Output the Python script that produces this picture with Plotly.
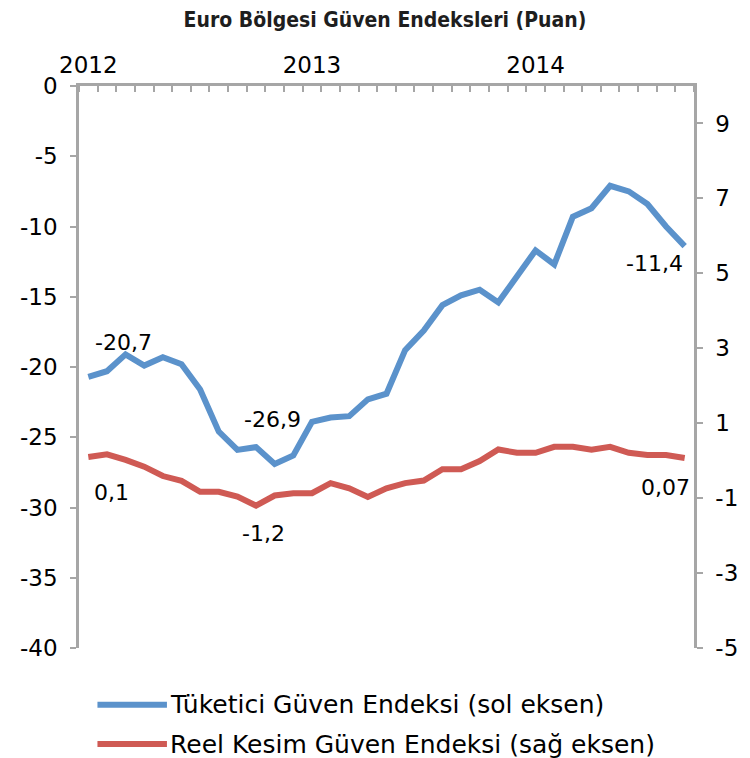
import plotly.graph_objects as go

# ---- data -------------------------------------------------------------
years = ["2012", "2013", "2014"]
months = [f"{y}-{m:02d}" for y in (2012, 2013, 2014) for m in range(1, 13)][:33]

consumer = [-20.7, -20.3, -19.1, -19.9, -19.3, -19.8, -21.6, -24.6, -25.9, -25.7, -26.9, -26.3,
            -23.9, -23.6, -23.5, -22.3, -21.9, -18.8, -17.4, -15.6, -14.9, -14.5, -15.4, -13.6,
            -11.7, -12.7, -9.3, -8.7, -7.1, -7.5, -8.4, -10.0, -11.4]
industry = [0.10, 0.17, 0.02, -0.16, -0.41, -0.54, -0.83, -0.83, -0.96, -1.20, -0.93, -0.87,
            -0.87, -0.60, -0.74, -0.97, -0.74, -0.60, -0.53, -0.23, -0.23, -0.01, 0.30, 0.21,
            0.21, 0.37, 0.37, 0.29, 0.37, 0.21, 0.15, 0.15, 0.07]

series_names = ["Tüketici Güven Endeksi (sol eksen)",
                "Reel Kesim Güven Endeksi (sağ eksen)"]
title_text = "Euro Bölgesi Güven Endeksleri (Puan)"

left_ticks = [0, -5, -10, -15, -20, -25, -30, -35, -40]
right_ticks = [9, 7, 5, 3, 1, -1, -3, -5]

# labelled points: (series, month, text, xshift, yshift)
point_labels = [
    ("consumer", "2012-01", "-20,7", 35, 34),
    ("consumer", "2012-11", "-26,9", -2, 44),
    ("consumer", "2014-09", "-11,4", -30, -17),
    ("industry", "2012-01", "0,1", 23, -36),
    ("industry", "2012-10", "-1,2", 7, -28),
    ("industry", "2014-09", "0,07", -19, -29),
]

# ---- style ------------------------------------------------------------
BLUE = "#5B92CB"
RED = "#CF5A54"
AXIS = "#A6A6A6"
FONT = "DejaVu Sans"
TICK = 23

x = list(range(len(months)))
year_pos = [months.index(f"{y}-01") for y in years]

fig = go.Figure()
fig.add_trace(go.Scatter(x=x, y=consumer, mode="lines", name=series_names[0],
                         line=dict(color=BLUE, width=6), yaxis="y"))
fig.add_trace(go.Scatter(x=x, y=industry, mode="lines", name=series_names[1],
                         line=dict(color=RED, width=6), yaxis="y2"))

data_map = {"consumer": (consumer, "y"), "industry": (industry, "y2")}
annotations = []
for s, m, txt, xs, ys in point_labels:
    vals, yr = data_map[s]
    i = months.index(m)
    annotations.append(dict(x=i, y=vals[i], xref="x", yref=yr, text=txt, showarrow=False,
                            xshift=xs, yshift=ys,
                            font=dict(family=FONT, size=22, color="black")))

# custom legend (long line samples as in the original)
shapes = []
leg_y = [-0.101, -0.171]
for name, col, ly in zip(series_names, [BLUE, RED], leg_y):
    shapes.append(dict(type="line", xref="paper", yref="paper", x0=0.030, x1=0.143,
                       y0=ly, y1=ly, line=dict(color=col, width=6)))
    annotations.append(dict(x=0.144, y=ly, xref="paper", yref="paper", text=name,
                            showarrow=False, xanchor="left", yanchor="middle",
                            font=dict(family=FONT, size=25, color="black")))

# the page body has an 8px margin, so the figure is 8px smaller than the window
fig.update_layout(
    width=742, height=750, autosize=False,
    margin=dict(l=65, r=51, t=78, b=110),
    plot_bgcolor="white", paper_bgcolor="white",
    showlegend=False,
    font=dict(family=FONT, color="black"),
    title=dict(text=title_text, xref="container", yref="container",
               x=0.508, y=0.985, xanchor="center", yanchor="middle",
               font=dict(family="DejaVu Sans Condensed, Liberation Sans Narrow, sans-serif",
                         size=21, color="#1e1e1e", weight="bold")),
    xaxis=dict(range=[-0.5, len(months) - 0.5], side="top", showline=True,
               linecolor=AXIS, linewidth=2.5, showgrid=False, zeroline=False,
               tickmode="array", tickvals=year_pos, ticktext=years, ticks="",
               tickfont=dict(family=FONT, size=TICK, color="black"),
               ticklabelstandoff=1,
               minor=dict(tickmode="array", tickvals=[i - 0.5 for i in range(len(months) + 1)],
                          ticks="inside", ticklen=6, tickwidth=2, tickcolor=AXIS,
                          showgrid=False)),
    yaxis=dict(range=[-40, 0], tickmode="array", tickvals=left_ticks,
               ticktext=[str(v) for v in left_ticks],
               ticks="outside", ticklen=6, tickwidth=2, tickcolor=AXIS,
               showline=True, linecolor=AXIS, linewidth=2.5, showgrid=False, zeroline=False,
               tickfont=dict(family=FONT, size=TICK, color="black"), ticklabelstandoff=8),
    yaxis2=dict(range=[-5, 10], overlaying="y", side="right", tickmode="array",
                tickvals=right_ticks, ticktext=[str(v) for v in right_ticks],
                ticks="outside", ticklen=6, tickwidth=2, tickcolor=AXIS,
                showline=True, linecolor=AXIS, linewidth=2.5, showgrid=False, zeroline=False,
                tickfont=dict(family=FONT, size=TICK, color="black"), ticklabelstandoff=8),
    annotations=annotations,
    shapes=shapes,
)

fig.write_html("out.html")
